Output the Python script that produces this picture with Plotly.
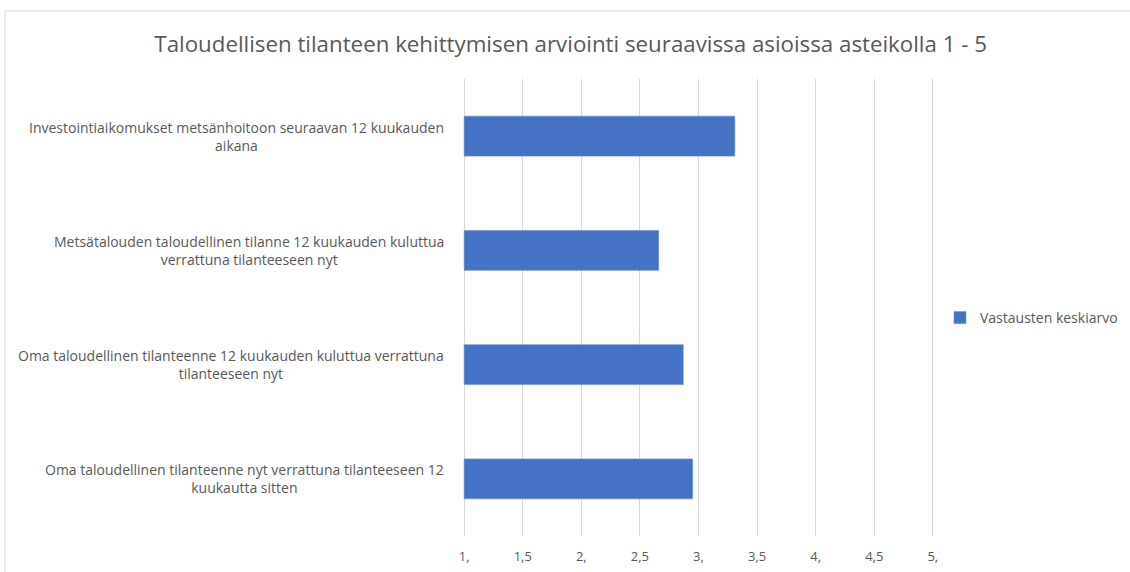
import plotly.graph_objects as go

categories = [
    "Investointiaikomukset metsänhoitoon seuraavan 12 kuukauden<br>aikana",
    "Metsätalouden taloudellinen tilanne 12 kuukauden kuluttua<br>verrattuna tilanteeseen nyt",
    "Oma taloudellinen tilanteenne 12 kuukauden kuluttua verrattuna<br>tilanteeseen nyt",
    "Oma taloudellinen tilanteenne nyt verrattuna tilanteeseen 12<br>kuukautta sitten",
]
values = [3.31, 2.66, 2.87, 2.95]
series_name = "Vastausten keskiarvo"
tick_vals = [1, 1.5, 2, 2.5, 3, 3.5, 4, 4.5, 5]
tick_text = ["1,", "1,5", "2,", "2,5", "3,", "3,5", "4,", "4,5", "5,"]
title = "Taloudellisen tilanteen kehittymisen arviointi seuraavissa asioissa asteikolla 1 - 5"
axis_min = 1

GRAY = "#595959"
FONT = "Open Sans"

fig = go.Figure()
fig.add_trace(go.Bar(
    y=categories, x=[v - axis_min for v in values], base=axis_min,
    orientation="h", name=series_name,
    marker=dict(color="#4472C4", line=dict(color="#6d8fd0", width=0.6)),
    width=0.35, showlegend=True,
))

for cat in categories:
    fig.add_annotation(
        x=-0.036, xref="paper", y=cat, yref="y", text=cat,
        xanchor="right", yanchor="middle", align="center", showarrow=False,
        font=dict(family=FONT, size=14, color=GRAY),
    )

fig.add_shape(type="rect", xref="paper", yref="paper",
              x0=-0.9724, x1=1.5, y0=-0.5, y1=1.1488,
              line=dict(color="#d9d9d9", width=1), fillcolor="rgba(0,0,0,0)", layer="below")

fig.update_layout(
    width=1130, height=572,
    margin=dict(l=463, r=196, t=79, b=36, autoexpand=False),
    paper_bgcolor="white", plot_bgcolor="white",
    title=dict(text=title, x=0.505, xanchor="center", y=1 - 44 / 572, yanchor="middle",
               yref="container", font=dict(family=FONT, size=22.3, color=GRAY)),
    font=dict(family=FONT, color=GRAY),
    xaxis=dict(range=[0.99, 5.01], tickvals=tick_vals, ticktext=tick_text,
               showgrid=True, gridcolor="#d9d9d9", gridwidth=1, zeroline=False,
               showline=False, ticks="outside", ticklen=8, tickcolor="rgba(0,0,0,0)",
               tickfont=dict(family=FONT, size=13, color=GRAY), automargin=False),
    yaxis=dict(autorange="reversed", showticklabels=False, showgrid=False,
               zeroline=False, showline=False, automargin=False),
    legend=dict(x=1.0127, xanchor="left", y=0.477, yanchor="middle",
                font=dict(family=FONT, size=14, color=GRAY), bgcolor="rgba(0,0,0,0)"),
    bargap=0.65,
)

fig.write_html("out.html", config={"displayModeBar": False},
               post_script="document.body.style.margin='0';")
